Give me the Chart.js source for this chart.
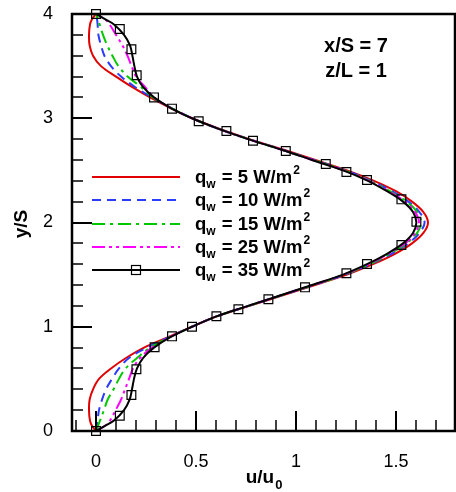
<!DOCTYPE html>
<html>
<head>
<meta charset="utf-8">
<script src="https://cdn.jsdelivr.net/npm/chart.js@4.4.1/dist/chart.umd.min.js"></script>
<style>
  html, body { margin: 0; padding: 0; background: #fff; }
  #wrap { width: 456px; height: 492px; }
</style>
</head>
<body>
<div id="wrap"><canvas id="myChart" width="456" height="492"></canvas></div>
<script>
const yLevels = [0, 0.05, 0.1, 0.2, 0.3, 0.4, 0.5, 0.6, 0.7, 0.8, 0.9, 1.0, 1.1, 1.2, 1.3, 1.4, 1.5, 1.6, 1.7, 1.8, 1.9, 2.0,
  2.1, 2.2, 2.3, 2.4, 2.5, 2.6, 2.7, 2.8, 2.9, 3.0, 3.1, 3.2, 3.3, 3.4, 3.5, 3.6, 3.7, 3.8, 3.9, 3.95, 4.0];

// u/u0 for each heat flux
const u5 = [0, -0.02, -0.03, -0.035, -0.032, -0.015, 0.015, 0.075, 0.15, 0.24, 0.36, 0.48, 0.605, 0.767, 0.93, 1.095, 1.255, 1.385, 1.495, 1.58, 1.637, 1.66,
  1.637, 1.58, 1.5, 1.39, 1.255, 1.097, 0.935, 0.767, 0.615, 0.48, 0.37, 0.27, 0.18, 0.1, 0.025, -0.015, -0.032, -0.035, -0.03, -0.02, 0];
const u10 = [0, 0.005, 0.008, 0.015, 0.03, 0.05, 0.08, 0.115, 0.165, 0.255, 0.365, 0.48, 0.604, 0.764, 0.925, 1.088, 1.246, 1.372, 1.478, 1.562, 1.617, 1.643,
  1.617, 1.562, 1.48, 1.375, 1.246, 1.088, 0.927, 0.764, 0.61, 0.48, 0.375, 0.28, 0.195, 0.125, 0.075, 0.042, 0.025, 0.012, 0.008, 0.005, 0];
const u15 = [0, 0.01, 0.02, 0.04, 0.058, 0.088, 0.115, 0.148, 0.205, 0.27, 0.368, 0.48, 0.603, 0.762, 0.923, 1.085, 1.242, 1.368, 1.47, 1.553, 1.606, 1.625,
  1.606, 1.553, 1.47, 1.37, 1.242, 1.085, 0.925, 0.762, 0.61, 0.48, 0.375, 0.285, 0.225, 0.158, 0.112, 0.082, 0.056, 0.035, 0.018, 0.01, 0];
const u25 = [0, 0.045, 0.07, 0.098, 0.125, 0.145, 0.165, 0.185, 0.22, 0.28, 0.37, 0.48, 0.602, 0.76, 0.921, 1.082, 1.238, 1.362, 1.463, 1.545, 1.596, 1.615,
  1.596, 1.545, 1.463, 1.365, 1.238, 1.082, 0.925, 0.76, 0.61, 0.48, 0.373, 0.29, 0.245, 0.2, 0.178, 0.157, 0.132, 0.1, 0.068, 0.045, 0];
const u35 = [0, 0.045, 0.09, 0.14, 0.168, 0.18, 0.19, 0.205, 0.235, 0.29, 0.372, 0.48, 0.602, 0.76, 0.92, 1.08, 1.235, 1.355, 1.455, 1.535, 1.585, 1.602,
  1.585, 1.535, 1.455, 1.36, 1.235, 1.08, 0.925, 0.76, 0.61, 0.48, 0.372, 0.29, 0.235, 0.205, 0.192, 0.182, 0.17, 0.14, 0.09, 0.045, 0];

// square symbols on the 35 W/m2 curve
const markU = [0, 0.119, 0.177, 0.202, 0.293, 0.38, 0.48, 0.602, 0.712, 0.862, 1.045, 1.252, 1.355, 1.527, 1.602,
  1.527, 1.355, 1.252, 1.149, 0.949, 0.785, 0.652, 0.5135, 0.38, 0.29, 0.2035, 0.177, 0.119, 0];
const markY = [0, 0.147, 0.345, 0.592, 0.803, 0.908, 1.0, 1.10, 1.167, 1.263, 1.378, 1.513, 1.602, 1.784, 2.008,
  2.222, 2.408, 2.484, 2.561, 2.686, 2.785, 2.878, 2.971, 3.092, 3.20, 3.412, 3.661, 3.856, 4.0];

const seriesNames = ["5", "10", "15", "25", "35"];
const xTicks = [0, 0.5, 1, 1.5];
const yTicks = [0, 1, 2, 3, 4];
const xMinor = [-0.1, 0.1, 0.2, 0.3, 0.4, 0.6, 0.7, 0.8, 0.9, 1.1, 1.2, 1.3, 1.4, 1.6, 1.7];
const yMinor = [0.2, 0.4, 0.6, 0.8, 1.2, 1.4, 1.6, 1.8, 2.2, 2.4, 2.6, 2.8, 3.2, 3.4, 3.6, 3.8];

const styles = [
  { color: "#e00000", dash: [] },
  { color: "#2a3cff", dash: [9, 6] },
  { color: "#00c800", dash: [13, 5, 3, 5] },
  { color: "#ff00ff", dash: [13, 4, 3, 4, 3, 4] },
  { color: "#000000", dash: [] }
];

function pts(u) {
  return u.map((v, i) => ({ x: v, y: yLevels[i] }));
}

const allU = [u5, u10, u15, u25, u35];
const datasets = [];
datasets.push({
  data: markU.map((v, i) => ({ x: v, y: markY[i] })),
  showLine: false,
  pointStyle: "rect",
  pointRadius: 6.2,
  borderColor: "#000",
  borderWidth: 1.2,
  backgroundColor: "rgba(0,0,0,0)",
  clip: false
});
for (let i = allU.length - 1; i >= 0; i--) {
  datasets.push({
    data: pts(allU[i]),
    showLine: true,
    borderColor: styles[i].color,
    borderDash: styles[i].dash,
    borderWidth: 2,
    pointRadius: 0,
    tension: 0.35,
    fill: false
  });
}

const F = "'Liberation Sans', Arial, sans-serif";

const decor = {
  id: "decor",
  afterDraw(chart) {
    const ctx = chart.ctx;
    const a = chart.chartArea;
    const xs = chart.scales.x, ys = chart.scales.y;
    ctx.save();
    ctx.strokeStyle = "#000";
    // inward ticks
    ctx.lineWidth = 2;
    xTicks.forEach(v => {
      const p = Math.round(xs.getPixelForValue(v));
      ctx.beginPath(); ctx.moveTo(p, a.bottom); ctx.lineTo(p, a.bottom - 20); ctx.stroke();
    });
    yTicks.forEach(v => {
      const p = Math.round(ys.getPixelForValue(v));
      ctx.beginPath(); ctx.moveTo(a.left, p); ctx.lineTo(a.left + 20, p); ctx.stroke();
    });
    ctx.lineWidth = 1.5;
    xMinor.forEach(v => {
      const p = Math.round(xs.getPixelForValue(v));
      ctx.beginPath(); ctx.moveTo(p, a.bottom); ctx.lineTo(p, a.bottom - 11); ctx.stroke();
    });
    yMinor.forEach(v => {
      const p = Math.round(ys.getPixelForValue(v));
      ctx.beginPath(); ctx.moveTo(a.left, p); ctx.lineTo(a.left + 11, p); ctx.stroke();
    });
    // frame
    ctx.lineWidth = 2.5;
    ctx.strokeRect(a.left, a.top, a.right - a.left, a.bottom - a.top);

    // axis titles
    ctx.fillStyle = "#000";
    ctx.textBaseline = "alphabetic";
    ctx.font = "bold 19px " + F;
    const cx = (a.left + a.right) / 2;
    const w1 = ctx.measureText("u/u").width;
    ctx.font = "bold 13px " + F;
    const w2 = ctx.measureText("0").width;
    let x0 = cx - (w1 + w2) / 2;
    ctx.font = "bold 19px " + F;
    ctx.fillText("u/u", x0, 483);
    ctx.font = "bold 13px " + F;
    ctx.fillText("0", x0 + w1 + 1, 489);

    ctx.save();
    ctx.translate(27, 224);
    ctx.rotate(-Math.PI / 2);
    ctx.font = "bold 19px " + F;
    ctx.textAlign = "center";
    ctx.fillText("y/S", 0, 0);
    ctx.restore();

    // annotation
    ctx.font = "bold 20px " + F;
    ctx.textAlign = "center";
    ctx.fillText("x/S = 7", 356, 52);
    ctx.fillText("z/L = 1", 356, 77);
    ctx.textAlign = "left";

    // legend
    const rowY = [177, 200, 224, 247, 270];
    for (let i = 0; i < 5; i++) {
      const yy = rowY[i];
      ctx.strokeStyle = styles[i].color;
      ctx.lineWidth = 2;
      ctx.setLineDash(styles[i].dash);
      ctx.beginPath(); ctx.moveTo(92, yy); ctx.lineTo(180, yy); ctx.stroke();
      ctx.setLineDash([]);
      if (i === 4) {
        ctx.strokeStyle = "#000";
        ctx.lineWidth = 1.2;
        ctx.strokeRect(131.5, yy - 4.5, 9, 9);
      }
      let tx = 195;
      ctx.font = "bold 18.5px " + F;
      ctx.fillText("q", tx, yy + 6);
      tx += ctx.measureText("q").width;
      ctx.font = "bold 12px " + F;
      ctx.fillText("w", tx, yy + 11);
      tx += ctx.measureText("w").width + 1;
      ctx.font = "bold 18.5px " + F;
      const s = " = " + seriesNames[i] + " W/m";
      ctx.fillText(s, tx, yy + 6);
      tx += ctx.measureText(s).width + 1;
      ctx.font = "bold 12px " + F;
      ctx.fillText("2", tx, yy - 3);
    }
    ctx.restore();
  }
};

new Chart(document.getElementById("myChart").getContext("2d"), {
  type: "scatter",
  data: { datasets: datasets },
  options: {
    responsive: false,
    animation: false,
    layout: { autoPadding: false, padding: { top: 14, right: 1, left: 0, bottom: 0 } },
    plugins: { legend: { display: false }, tooltip: { enabled: false } },
    scales: {
      x: {
        type: "linear",
        min: -0.12,
        max: 1.795,
        grid: { display: false },
        border: { display: false },
        afterBuildTicks: s => { s.ticks = xTicks.map(v => ({ value: v })); },
        afterFit: s => { s.height = 61; s.paddingLeft = 0; s.paddingRight = 0; },
        ticks: {
          padding: 12,
          maxRotation: 0,
          color: "#000",
          font: { family: F, size: 18 },
          callback: v => String(v)
        }
      },
      y: {
        type: "linear",
        min: 0,
        max: 4,
        grid: { display: false },
        border: { display: false },
        afterBuildTicks: s => { s.ticks = yTicks.map(v => ({ value: v })); },
        afterFit: s => { s.width = 72; s.paddingTop = 0; s.paddingBottom = 0; },
        ticks: {
          padding: 11,
          color: "#000",
          font: { family: F, size: 18 },
          callback: v => String(v)
        }
      }
    }
  },
  plugins: [decor]
});
</script>
</body>
</html>
